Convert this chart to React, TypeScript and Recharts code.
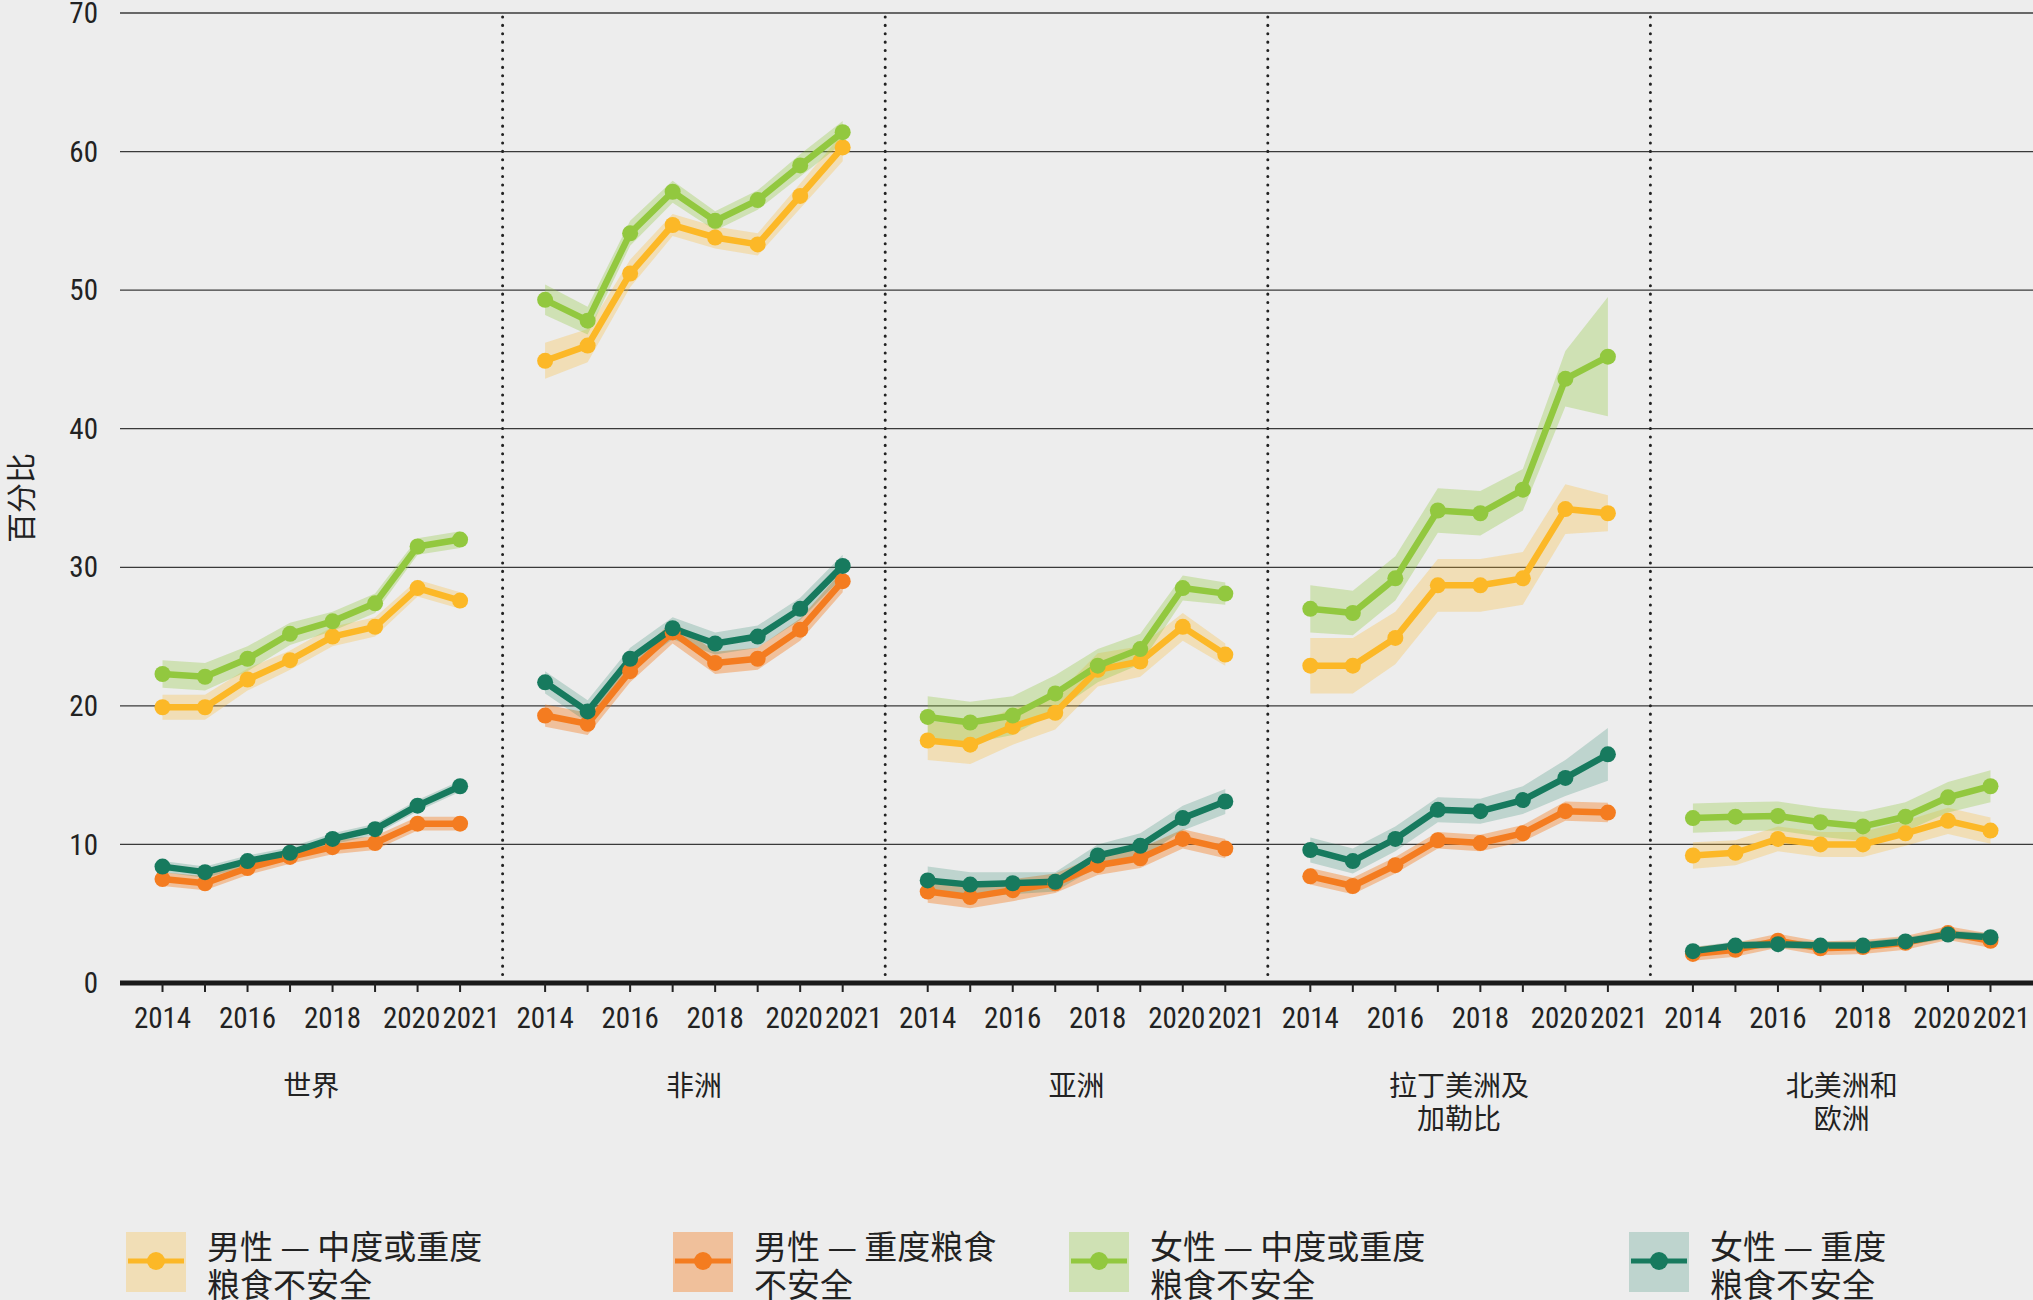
import { ComposedChart, Line, Area, XAxis, YAxis, CartesianGrid, ReferenceLine } from 'recharts';

const NUM_FONT = '"Liberation Sans Narrow", "Arial Narrow", "Roboto Condensed", "Liberation Sans", sans-serif';
const CJK_FONT = '"Noto Sans CJK SC", "Noto Sans", sans-serif';

const regions = ['世界', '非洲', '亚洲', '拉丁美洲及\n加勒比', '北美洲和\n欧洲'];
const years = [2014, 2015, 2016, 2017, 2018, 2019, 2020, 2021];
const labelYears = [2014, 2016, 2018, 2020, 2021];
const yTicks = [0, 10, 20, 30, 40, 50, 60, 70];

// 男性 — 中度或重度粮食不安全 (one row per region)
const maleModerate = [
  [19.9, 19.9, 21.9, 23.3, 25.0, 25.7, 28.5, 27.6],
  [44.9, 46.0, 51.2, 54.7, 53.8, 53.3, 56.8, 60.3],
  [17.5, 17.2, 18.5, 19.5, 22.6, 23.2, 25.7, 23.7],
  [22.9, 22.9, 24.9, 28.7, 28.7, 29.2, 34.2, 33.9],
  [9.2, 9.4, 10.4, 10.0, 10.0, 10.8, 11.7, 11.0],
];
const maleModerateCI = [
  [0.9, 0.9, 0.8, 0.7, 0.7, 0.7, 0.6, 0.6],
  [1.3, 1.2, 1.0, 0.8, 0.8, 0.8, 0.9, 1.0],
  [1.4, 1.4, 1.3, 1.2, 1.2, 1.1, 1.0, 0.8],
  [2.0, 2.0, 1.9, 1.9, 1.9, 1.9, 1.8, 1.3],
  [0.95, 0.9, 0.9, 0.9, 0.9, 0.9, 0.95, 0.95],
];

// 男性 — 重度粮食不安全
const maleSevere = [
  [7.5, 7.2, 8.3, 9.1, 9.8, 10.1, 11.5, 11.5],
  [19.3, 18.7, 22.5, 25.3, 23.1, 23.4, 25.5, 29.0],
  [6.6, 6.2, 6.7, 7.2, 8.5, 9.0, 10.4, 9.7],
  [7.7, 7.0, 8.5, 10.3, 10.1, 10.8, 12.4, 12.3],
  [2.1, 2.4, 3.05, 2.5, 2.6, 2.9, 3.6, 3.05],
];
const maleSevereCI = [
  [0.5, 0.5, 0.5, 0.5, 0.5, 0.5, 0.5, 0.5],
  [0.8, 0.8, 0.8, 0.8, 0.8, 0.8, 0.8, 0.8],
  [0.8, 0.8, 0.8, 0.7, 0.7, 0.7, 0.7, 0.7],
  [0.6, 0.6, 0.6, 0.6, 0.6, 0.6, 0.7, 0.7],
  [0.5, 0.5, 0.5, 0.5, 0.5, 0.5, 0.5, 0.5],
];

// 女性 — 中度或重度粮食不安全
const femaleModerate = [
  [22.3, 22.1, 23.4, 25.2, 26.1, 27.4, 31.5, 32.0],
  [49.3, 47.8, 54.1, 57.1, 55.0, 56.5, 59.0, 61.4],
  [19.2, 18.8, 19.3, 20.9, 22.9, 24.1, 28.5, 28.1],
  [27.0, 26.7, 29.2, 34.1, 33.9, 35.6, 43.6, 45.2],
  [11.9, 12.0, 12.05, 11.6, 11.3, 12.0, 13.4, 14.2],
];
const femaleModerateCI = [
  [1.0, 1.0, 0.9, 0.8, 0.7, 0.7, 0.6, 0.6],
  [1.1, 1.0, 0.9, 0.8, 0.7, 0.7, 0.8, 0.8],
  [1.5, 1.5, 1.4, 1.3, 1.2, 1.1, 0.9, 0.8],
  [1.7, 1.6, 1.6, 1.6, 1.6, 1.5, 2.0, 4.3],
  [1.05, 1.05, 1.05, 1.05, 1.05, 1.05, 1.1, 1.15],
];

// 女性 — 重度粮食不安全
const femaleSevere = [
  [8.4, 8.0, 8.8, 9.4, 10.4, 11.1, 12.8, 14.2],
  [21.7, 19.6, 23.4, 25.6, 24.5, 25.0, 27.0, 30.1],
  [7.4, 7.1, 7.2, 7.3, 9.2, 9.9, 11.9, 13.1],
  [9.6, 8.8, 10.4, 12.5, 12.4, 13.2, 14.8, 16.5],
  [2.3, 2.7, 2.8, 2.7, 2.7, 3.0, 3.5, 3.3],
];
const femaleSevereCI = [
  [0.4, 0.4, 0.4, 0.4, 0.4, 0.4, 0.4, 0.4],
  [0.8, 0.8, 0.8, 0.8, 0.8, 0.8, 0.8, 0.8],
  [1.0, 0.9, 0.8, 0.7, 0.8, 0.9, 0.9, 0.9],
  [0.9, 0.9, 0.9, 0.9, 0.9, 1.0, 1.3, 1.9],
  [0.3, 0.3, 0.3, 0.3, 0.3, 0.3, 0.3, 0.3],
];

const series = [
  { key: 'maleMod', name: ['男性 — 中度或重度', '粮食不安全'], values: maleModerate, ci: maleModerateCI, color: '#fcb827', bandOpacity: 0.28 },
  { key: 'maleSev', name: ['男性 — 重度粮食', '不安全'], values: maleSevere, ci: maleSevereCI, color: '#f47c20', bandOpacity: 0.4 },
  { key: 'femMod', name: ['女性 — 中度或重度', '粮食不安全'], values: femaleModerate, ci: femaleModerateCI, color: '#92c83f', bandOpacity: 0.33 },
  { key: 'femSev', name: ['女性 — 重度', '粮食不安全'], values: femaleSevere, ci: femaleSevereCI, color: '#177a5e', bandOpacity: 0.22 },
];

// each region occupies 9 x-units: a blank unit on each side of the 8 years
const PANEL = 9;

const data: any[] = [];
regions.forEach((_, p) => {
  years.forEach((yr, i) => {
    const row: any = { x: p * PANEL + yr - 2013 };
    series.forEach((s) => {
      const v = s.values[p][i];
      const c = s.ci[p][i];
      row[s.key] = v;
      row[s.key + 'Band'] = [v - c, v + c];
    });
    data.push(row);
  });
  if (p < regions.length - 1) {
    const gap: any = { x: (p + 1) * PANEL };
    series.forEach((s) => {
      gap[s.key] = null;
      gap[s.key + 'Band'] = null;
    });
    data.push(gap);
  }
});

const xTicks = regions.flatMap((_, p) => years.map((yr) => p * PANEL + yr - 2013));

const W = 2033;
const PLOT_LEFT = 120;
const PLOT_TOP = 13;
const PLOT_BOTTOM = 983;
const CHART_H = 1200;

const XTick = (props: any) => {
  const { x, y, payload } = props;
  const year = 2013 + (payload.value % PANEL);
  if (!labelYears.includes(year)) return <g />;
  const shift = year === 2020 ? -6 : year === 2021 ? 11 : 0;
  return (
    <text x={x + shift} y={y + 36} textAnchor="middle" fontSize={29} fontFamily={NUM_FONT} fill="#222">
      {year}
    </text>
  );
};

const YTick = (props: any) => {
  const { x, y, payload } = props;
  return (
    <text x={x} y={y} dy="0.35em" textAnchor="end" fontSize={29} fontFamily={NUM_FONT} fill="#222">
      {payload.value}
    </text>
  );
};

const App = () => {
  const panelW = (W - PLOT_LEFT) / regions.length;
  return (
    <div style={{ position: 'absolute', left: 0, top: 0, width: W, height: 1300, background: '#ededed', overflow: 'hidden' }}>
      <ComposedChart width={W} height={CHART_H} data={data} margin={{ top: PLOT_TOP, right: 0, bottom: 0, left: 0 }}>
        <CartesianGrid vertical={false} stroke="#3a3a3a" strokeWidth={1.3} />
        <XAxis
          type="number"
          dataKey="x"
          domain={[0, regions.length * PANEL]}
          ticks={xTicks}
          interval={0}
          height={CHART_H - PLOT_BOTTOM}
          tickSize={9}
          tickMargin={0}
          axisLine={{ stroke: '#1a1a1a', strokeWidth: 5 }}
          tickLine={{ stroke: '#222', strokeWidth: 2 }}
          tick={(p: any) => <XTick {...p} />}
        />
        <YAxis
          type="number"
          domain={[0, 70]}
          ticks={yTicks}
          interval={0}
          width={PLOT_LEFT}
          axisLine={false}
          tickLine={false}
          tickSize={0}
          tickMargin={22}
          tick={(p: any) => <YTick {...p} />}
          label={{
            content: () => (
              <text transform={`translate(19, ${(PLOT_TOP + PLOT_BOTTOM) / 2}) rotate(-90)`} textAnchor="middle" dominantBaseline="central" fontSize={30} fontFamily={CJK_FONT} fill="#222">
                百分比
              </text>
            ),
          }}
        />
        {[1, 2, 3, 4].map((i) => (
          <ReferenceLine key={i} x={i * PANEL} stroke="#222" strokeWidth={3} strokeDasharray="0.1 8.3" strokeLinecap="round" />
        ))}
        {series.map((s) => (
          <Area
            key={s.key + 'Band'}
            dataKey={s.key + 'Band'}
            stroke="none"
            fill={s.color}
            fillOpacity={s.bandOpacity}
            isAnimationActive={false}
            activeDot={false}
            type="linear"
          />
        ))}
        {series.map((s) => (
          <Line
            key={s.key}
            dataKey={s.key}
            stroke={s.color}
            strokeWidth={6.5}
            strokeLinejoin="round"
            dot={{ r: 8, fill: s.color, stroke: 'none' }}
            activeDot={false}
            isAnimationActive={false}
            type="linear"
          />
        ))}
      </ComposedChart>

      {regions.map((r, i) => (
        <div
          key={r}
          style={{
            position: 'absolute',
            left: PLOT_LEFT + panelW * i,
            width: panelW,
            top: 1068,
            textAlign: 'center',
            fontFamily: CJK_FONT,
            fontSize: 28,
            lineHeight: '33px',
            color: '#222',
            whiteSpace: 'pre-line',
          }}
        >
          {r}
        </div>
      ))}

      {series.map((s, i) => {
        const left = [126, 673, 1069, 1629][i];
        return (
          <div key={s.key} style={{ position: 'absolute', left, top: 1232, display: 'flex', alignItems: 'flex-start' }}>
            <svg width={60} height={60} style={{ display: 'block' }}>
              <rect x={0} y={0} width={60} height={60} fill={s.color} fillOpacity={s.bandOpacity} />
              <line x1={2} x2={58} y1={29} y2={29} stroke={s.color} strokeWidth={5} />
              <circle cx={30} cy={29} r={9} fill={s.color} />
            </svg>
            <div style={{ marginLeft: 21, marginTop: -6, fontFamily: CJK_FONT, fontSize: 33, lineHeight: '38px', color: '#222', whiteSpace: 'nowrap' }}>
              {s.name[0]}
              <br />
              {s.name[1]}
            </div>
          </div>
        );
      })}
    </div>
  );
};

export default App;
